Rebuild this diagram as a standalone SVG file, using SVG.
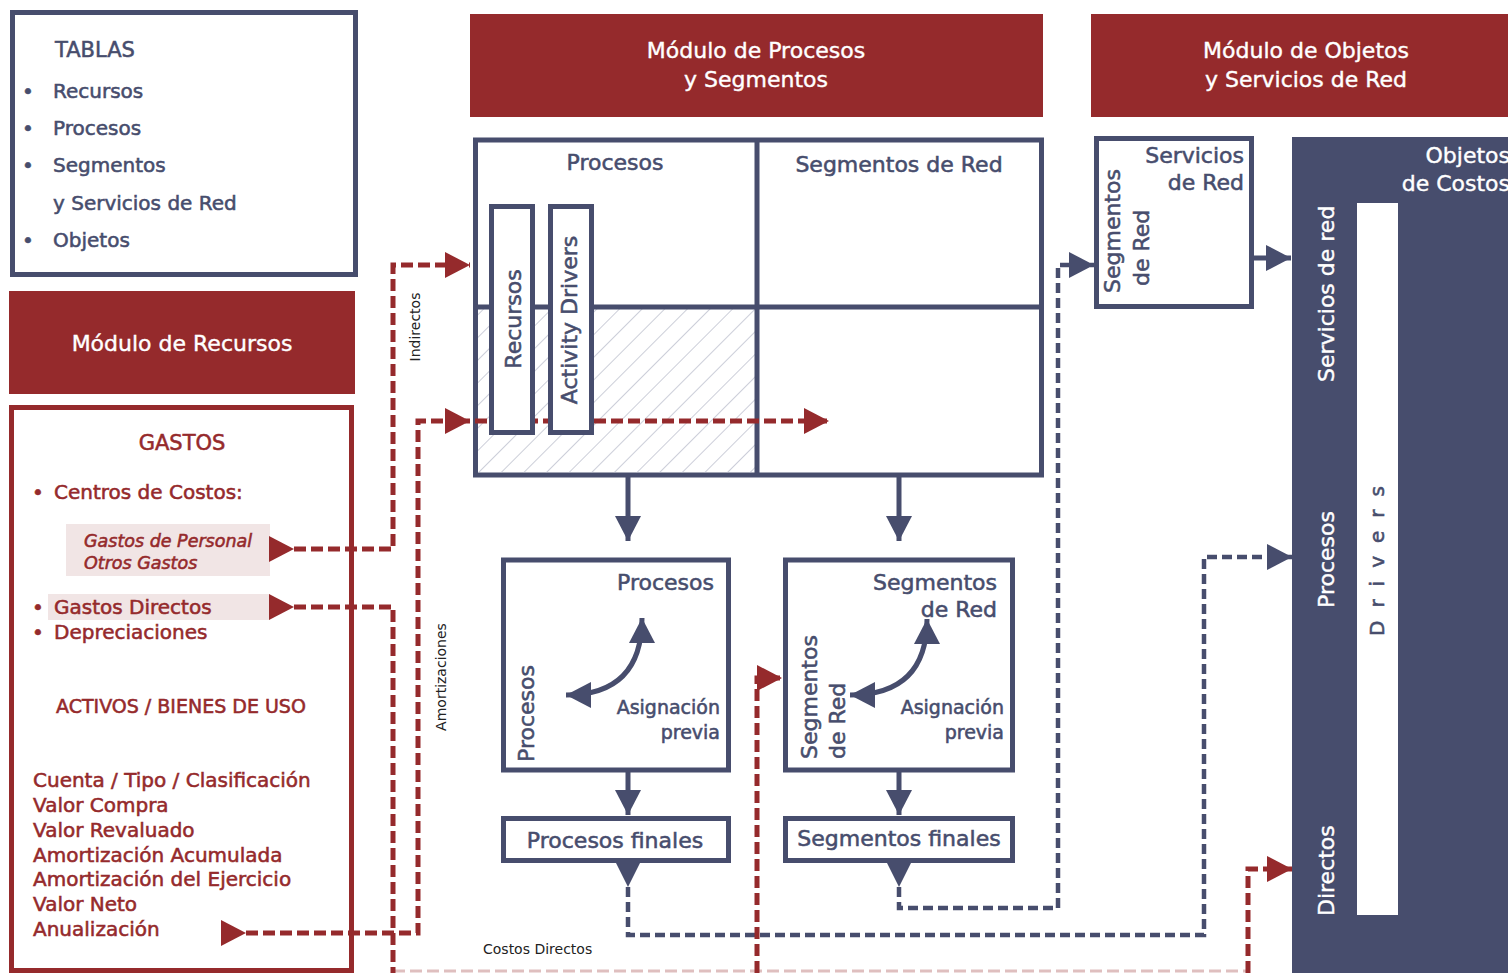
<svg xmlns="http://www.w3.org/2000/svg" width="1508" height="973" viewBox="0 0 1508 973">
<defs>
<style>
text{font-family:"DejaVu Sans","Liberation Sans",sans-serif;}
.nv{fill:#474D6D;stroke:#474D6D;stroke-width:0.55}
.rd{fill:#952A2C;stroke:#952A2C;stroke-width:0.55}
.wh{fill:#fff;stroke:#fff;stroke-width:0.4}
.bx{fill:#fff;stroke:#474D6D;stroke-width:5}
.rbx{fill:#fff;stroke:#952A2C;stroke-width:5}
.hdr{fill:#952A2C}
.t22{font-size:22px}
.t20{font-size:20px}
.t19{font-size:19px}
.mid{text-anchor:middle}
.end{text-anchor:end}
.rdash{fill:none;stroke:#952A2C;stroke-width:5;stroke-dasharray:12 5}
.ndash{fill:none;stroke:#474D6D;stroke-width:4.5;stroke-dasharray:10 5}
.nsolid{fill:none;stroke:#474D6D;stroke-width:5}
.lbl{font-size:14px;fill:#222}
.pink{fill:#F1E5E5}
</style>
<pattern id="hatch" patternUnits="userSpaceOnUse" width="16" height="16" patternTransform="rotate(45)">
<line x1="0" y1="0" x2="0" y2="16" stroke="#A9ADBF" stroke-width="1.2"/>
</pattern>
<marker id="ra" markerUnits="userSpaceOnUse" markerWidth="25" markerHeight="26" viewBox="0 0 25 26" refX="25" refY="13" orient="auto">
<path d="M0,0 L25,13 L0,26 Z" fill="#952A2C"/>
</marker>
<marker id="na" markerUnits="userSpaceOnUse" markerWidth="25" markerHeight="26" viewBox="0 0 25 26" refX="25" refY="13" orient="auto">
<path d="M0,0 L25,13 L0,26 Z" fill="#474D6D"/>
</marker>
<marker id="nb" markerUnits="userSpaceOnUse" markerWidth="25" markerHeight="26" viewBox="0 0 25 26" refX="25" refY="13" orient="auto-start-reverse">
<path d="M0,0 L25,13 L0,26 Z" fill="#474D6D"/>
</marker>
<marker id="ns" markerUnits="userSpaceOnUse" markerWidth="24" markerHeight="24" viewBox="0 0 24 24" refX="24" refY="12" orient="auto">
<path d="M0,0 L24,12 L0,24 Z" fill="#474D6D"/>
</marker>
</defs>

<rect width="1508" height="973" fill="#fff"/>

<g id="tablas">
<rect x="12.5" y="12.5" width="343" height="262" class="bx"/>
<text x="55" y="57" class="nv" font-size="21">TABLAS</text>
<g class="nv t20">
<text x="22" y="98">•</text><text x="53" y="98">Recursos</text>
<text x="22" y="135">•</text><text x="53" y="135">Procesos</text>
<text x="22" y="172">•</text><text x="53" y="172">Segmentos</text>
<text x="53" y="210">y Servicios de Red</text>
<text x="22" y="247">•</text><text x="53" y="247">Objetos</text>
</g>
</g>

<g id="modulo-recursos">
<rect x="9" y="291" width="346" height="103" class="hdr"/>
<text x="182" y="351" class="wh t22 mid">Módulo de Recursos</text>
</g>

<g id="modulo-procesos-segmentos">
<rect x="470" y="14" width="573" height="103" class="hdr"/>
<text x="756" y="58" class="wh t22 mid">Módulo de Procesos</text>
<text x="756" y="87" class="wh t22 mid">y Segmentos</text>
</g>

<g id="modulo-objetos">
<rect x="1091" y="14" width="417" height="103" class="hdr"/>
<text x="1306" y="58" class="wh t22 mid">Módulo de Objetos</text>
<text x="1306" y="87" class="wh t22 mid">y Servicios de Red</text>
</g>

<g id="gastos">
<rect x="11.5" y="407.5" width="340" height="563" class="rbx"/>
<text x="182" y="450" class="rd mid" font-size="21">GASTOS</text>
<text x="32" y="499" class="rd t20">•</text>
<text x="54" y="499" class="rd t20">Centros de Costos:</text>
<rect x="66" y="524" width="204" height="52" class="pink"/>
<text x="84" y="547" class="rd" font-size="17.5" font-style="italic">Gastos de Personal</text>
<text x="84" y="569" class="rd" font-size="17.5" font-style="italic">Otros Gastos</text>
<rect x="48" y="594" width="222" height="26" class="pink"/>
<text x="32" y="614" class="rd t20">•</text>
<text x="54" y="614" class="rd t20">Gastos Directos</text>
<text x="32" y="639" class="rd t20">•</text>
<text x="54" y="639" class="rd t20">Depreciaciones</text>
<text x="56" y="713" class="rd t19">ACTIVOS / BIENES DE USO</text>
<g class="rd t20">
<text x="33" y="787">Cuenta / Tipo / Clasificación</text>
<text x="33" y="812">Valor Compra</text>
<text x="33" y="837">Valor Revaluado</text>
<text x="33" y="862">Amortización Acumulada</text>
<text x="33" y="886">Amortización del Ejercicio</text>
<text x="33" y="911">Valor Neto</text>
<text x="33" y="936">Anualización</text>
</g>
</g>

<g id="grid-procesos-segmentos">
<rect x="475.5" y="140" width="566" height="335" class="bx"/>
<rect x="478" y="307" width="279" height="166" fill="url(#hatch)"/>
<line x1="757" y1="140" x2="757" y2="475" stroke="#474D6D" stroke-width="5"/>
<line x1="475" y1="307" x2="1041" y2="307" stroke="#474D6D" stroke-width="5"/>
<text x="615" y="170" class="nv t22 mid">Procesos</text>
<text x="899" y="172" class="nv t22 mid">Segmentos de Red</text>
</g>

<g id="objetos-costos">
<rect x="1292" y="137" width="216" height="836" fill="#474D6D"/>
<rect x="1357" y="203" width="41" height="712" fill="#fff"/>
<text x="1510" y="163" class="wh t22 end">Objetos</text>
<text x="1510" y="191" class="wh t22 end">de Costos</text>
<text transform="translate(1334,382) rotate(-90)" class="wh t22">Servicios de red</text>
<text transform="translate(1334,608) rotate(-90)" class="wh t22">Procesos</text>
<text transform="translate(1334,916) rotate(-90)" class="wh t22">Directos</text>
<text transform="translate(1384,636) rotate(-90)" class="nv t20" letter-spacing="13">Drivers</text>
</g>

<g id="connectors">
<line x1="393" y1="971" x2="1248" y2="971" stroke="#952A2C" stroke-opacity="0.3" stroke-width="3" stroke-dasharray="12 5"/>
<path d="M628,477 V541" class="nsolid" marker-end="url(#na)"/>
<path d="M899,477 V541" class="nsolid" marker-end="url(#na)"/>
<path d="M628,772 V815" class="nsolid" marker-end="url(#na)"/>
<path d="M899,772 V815" class="nsolid" marker-end="url(#na)"/>
<path d="M1253,258 H1291" class="nsolid" marker-end="url(#na)"/>
<path d="M628,887 V935 H1204 V557 H1292" class="ndash" marker-start="url(#ns)" marker-end="url(#na)"/>
<path d="M899,887 V908 H1058 V265 H1094" class="ndash" marker-start="url(#ns)" marker-end="url(#na)"/>
<path d="M294,549 H393 V265 H470" class="rdash" marker-start="url(#ra)" marker-end="url(#ra)"/>
<path d="M294,607 H393 V973" class="rdash" marker-start="url(#ra)"/>
<path d="M246,933 H418 V421 H470" class="rdash" marker-start="url(#ra)" marker-end="url(#ra)"/>
<path d="M475,421 H829" class="rdash" marker-end="url(#ra)"/>
<path d="M757,973 V678 H782" class="rdash" marker-end="url(#ra)"/>
<path d="M1248,973 V869 H1292" class="rdash" marker-end="url(#ra)"/>
<text transform="translate(420,327) rotate(-90)" class="lbl mid">Indirectos</text>
<text transform="translate(446,677) rotate(-90)" class="lbl mid">Amortizaciones</text>
<text x="483" y="954" class="lbl">Costos Directos</text>
</g>

<g id="recursos-col">
<rect x="491.5" y="206.5" width="41" height="226" class="bx"/>
<text transform="translate(521,319) rotate(-90)" class="nv t22 mid">Recursos</text>
</g>

<g id="activity-drivers-col">
<rect x="550.5" y="206.5" width="41" height="226" class="bx"/>
<text transform="translate(577,320) rotate(-90)" class="nv t22 mid">Activity Drivers</text>
</g>

<g id="procesos-box">
<rect x="503.5" y="560" width="225" height="210" class="bx"/>
<text x="714" y="590" class="nv t22 end">Procesos</text>
<text transform="translate(534,762) rotate(-90)" class="nv t22">Procesos</text>
<text x="720" y="714" class="nv t19 end">Asignación</text>
<text x="720" y="739" class="nv t19 end">previa</text>
<path d="M642,618 Q642,695 566,695" class="nsolid" marker-start="url(#nb)" marker-end="url(#nb)"/>
</g>

<g id="segmentos-box">
<rect x="785.5" y="560" width="227" height="210" class="bx"/>
<text x="997" y="590" class="nv t22 end">Segmentos</text>
<text x="997" y="617" class="nv t22 end">de Red</text>
<text transform="translate(817,759) rotate(-90)" class="nv t22">Segmentos</text>
<text transform="translate(845,759) rotate(-90)" class="nv t22">de Red</text>
<text x="1004" y="714" class="nv t19 end">Asignación</text>
<text x="1004" y="739" class="nv t19 end">previa</text>
<path d="M927,619 Q927,695 850,695" class="nsolid" marker-start="url(#nb)" marker-end="url(#nb)"/>
</g>

<g id="procesos-finales">
<rect x="503.5" y="818.5" width="225" height="42" class="bx"/>
<text x="615" y="848" class="nv t22 mid">Procesos finales</text>
</g>

<g id="segmentos-finales">
<rect x="785.5" y="818.5" width="227" height="42" class="bx"/>
<text x="899" y="846" class="nv t22 mid">Segmentos finales</text>
</g>

<g id="servicios-red">
<rect x="1096.5" y="138.5" width="155" height="168" class="bx"/>
<text x="1244" y="163" class="nv t22 end">Servicios</text>
<text x="1244" y="190" class="nv t22 end">de Red</text>
<text transform="translate(1120,293) rotate(-90)" class="nv t22">Segmentos</text>
<text transform="translate(1149,286) rotate(-90)" class="nv t22">de Red</text>
</g>
</svg>
